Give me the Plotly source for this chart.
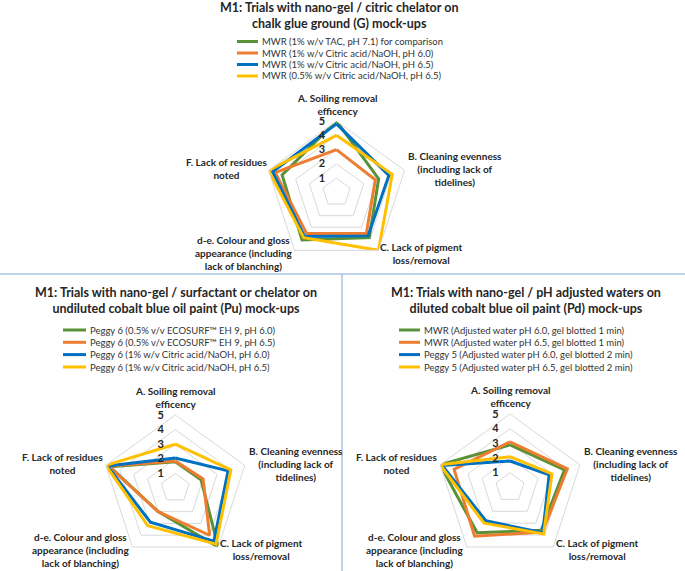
import plotly.graph_objects as go

W, H = 685, 571

categories = ["A", "B", "C", "D", "F"]
category_labels = [
    "A. Soiling removal<br>efficency",
    "B. Cleaning evenness<br>(including lack of<br>tidelines)",
    "C. Lack of pigment<br>loss/removal",
    "d-e. Colour and gloss<br>appearance (including<br>lack of blanching)",
    "F. Lack of residues<br>noted",
]
radial_ticks = [1, 2, 3, 4, 5]

colors = ["#5B9136", "#ED7D31", "#0070C0", "#FFC000"]

# Chart 1 (G mock-ups)
g_title = "M1: Trials with nano-gel / citric chelator on<br>chalk glue ground (G) mock-ups"
g_names = [
    "MWR (1% w/v TAC, pH 7.1) for comparison",
    "MWR (1% w/v Citric acid/NaOH, pH 6.0)",
    "MWR (1% w/v Citric acid/NaOH, pH 6.5)",
    "MWR (0.5% w/v Citric acid/NaOH, pH 6.5)",
]
g_green = [5.0, 3.1, 3.9, 4.1, 4.0]
g_orange = [3.0, 2.85, 3.55, 3.55, 4.5]
g_blue = [4.8, 3.85, 3.75, 3.8, 4.7]
g_yellow = [4.0, 4.1, 5.0, 3.9, 5.0]

# Chart 2 (Pu mock-ups)
pu_title = "M1: Trials with nano-gel / surfactant or chelator on<br>undiluted cobalt blue oil paint (Pu) mock-ups"
pu_names = [
    "Peggy 6 (0.5% v/v ECOSURF™ EH 9, pH 6.0)",
    "Peggy 6 (0.5% v/v ECOSURF™ EH 9, pH 6.5)",
    "Peggy 6 (1% w/v Citric acid/NaOH, pH 6.0)",
    "Peggy 6 (1% w/v Citric acid/NaOH, pH 6.5)",
]
pu_green = [1.8, 1.85, 5.0, 2.0, 4.7]
pu_orange = [1.85, 2.0, 4.0, 2.0, 4.8]
pu_blue = [2.05, 3.8, 4.5, 2.9, 4.9]
pu_yellow = [3.0, 4.0, 4.75, 3.2, 5.0]

# Chart 3 (Pd mock-ups)
pd_title = "M1: Trials with nano-gel / pH adjusted waters on<br>diluted cobalt blue oil paint (Pd) mock-ups"
pd_names = [
    "MWR (Adjusted water pH 6.0, gel blotted 1 min)",
    "MWR (Adjusted water pH 6.5, gel blotted 1 min)",
    "Peggy 5 (Adjusted water pH 6.0, gel blotted 2 min)",
    "Peggy 5 (Adjusted water pH 6.5, gel blotted 2 min)",
]
pd_green = [2.9, 3.9, 3.6, 3.8, 5.0]
pd_orange = [3.1, 4.1, 3.75, 4.1, 4.0]
pd_blue = [1.8, 2.8, 3.8, 2.8, 4.85]
pd_yellow = [2.1, 3.0, 3.9, 3.0, 5.0]

FONT = "Lato"

charts = [
    dict(key="polar", cx=336.5, cy=192.5, R=71.5, title=g_title, tx=339, ty=15,
         names=g_names, series=[g_green, g_orange, g_blue, g_yellow],
         lx0=237, lx1=258, ly=[41.5, 53, 64.5, 76]),
    dict(key="polar2", cx=175.3, cy=488, R=73, title=pu_title, tx=176, ty=300,
         names=pu_names, series=[pu_green, pu_orange, pu_blue, pu_yellow],
         lx0=63, lx1=86, ly=[330, 342.3, 354.6, 367]),
    dict(key="polar3", cx=510, cy=487.5, R=73.5, title=pd_title, tx=525.7, ty=300,
         names=pd_names, series=[pd_green, pd_orange, pd_blue, pd_yellow],
         lx0=399, lx1=420, ly=[330, 342.3, 354.6, 367]),
]

label_offsets = [(0, -89), (119, -23.5), (85.5, 61), (-93.5, 61), (-111, -24)]

fig = go.Figure()
annotations = []
shapes = []

def px(x):
    return x / W

def py(y):
    return 1 - y / H

for ch in charts:
    for name, vals, col in zip(ch["names"], ch["series"], colors):
        fig.add_trace(go.Scatterpolar(
            r=vals + [vals[0]], theta=categories + [categories[0]],
            mode="lines", name=name, subplot=ch["key"], showlegend=False,
            line=dict(color=col, width=3), hoverinfo="skip",
        ))
    cx, cy, R = ch["cx"], ch["cy"], ch["R"]
    fig.layout[ch["key"]] = dict(
        domain=dict(x=[px(cx - R), px(cx + R)], y=[py(cy + R), py(cy - R)]),
        gridshape="linear",
        bgcolor="white",
        radialaxis=dict(range=[0, 5], tickvals=radial_ticks, showline=False,
                        gridcolor="#d9d9d9", gridwidth=1, angle=90, tickangle=90,
                        side="counterclockwise", ticks="outside", ticklen=7,
                        tickcolor="rgba(0,0,0,0)",
                        tickfont=dict(family=FONT, size=11, color="#262626", weight="bold")),
        angularaxis=dict(direction="clockwise", rotation=90, showticklabels=False,
                         showgrid=False, showline=True, linecolor="#d9d9d9",
                         linewidth=1, ticks=""),
    )
    # title
    annotations.append(dict(text="<b>" + ch["title"] + "</b>", x=px(ch["tx"]), y=py(ch["ty"]),
                            xref="paper", yref="paper", showarrow=False,
                            xanchor="center", yanchor="middle", align="center",
                            font=dict(family=FONT, size=12.5, color="#262626")))
    # category labels
    scale = R / 72.0
    for lab, (dx, dy) in zip(category_labels, label_offsets):
        annotations.append(dict(text="<b>" + lab + "</b>", x=px(cx + dx * scale), y=py(cy + dy * scale),
                                xref="paper", yref="paper", showarrow=False,
                                xanchor="center", yanchor="middle", align="center",
                                font=dict(family=FONT, size=10, color="#262626")))
    # legend
    for name, col, yy in zip(ch["names"], colors, ch["ly"]):
        shapes.append(dict(type="line", xref="paper", yref="paper",
                           x0=px(ch["lx0"]), x1=px(ch["lx1"]), y0=py(yy), y1=py(yy),
                           line=dict(color=col, width=3)))
        annotations.append(dict(text=name, x=px(ch["lx1"] + 1.5), y=py(yy),
                                xref="paper", yref="paper", showarrow=False,
                                xanchor="left", yanchor="middle",
                                font=dict(family=FONT, size=9.5, color="#333333")))

# dividers
shapes.append(dict(type="line", xref="paper", yref="paper", x0=0, x1=1,
                   y0=py(274), y1=py(274), line=dict(color="#A9C4E4", width=1.5)))
shapes.append(dict(type="line", xref="paper", yref="paper", x0=px(342), x1=px(342),
                   y0=py(274), y1=0, line=dict(color="#A9C4E4", width=1.5)))

fig.update_layout(
    width=W, height=H,
    margin=dict(l=0, r=0, t=0, b=0),
    paper_bgcolor="white",
    plot_bgcolor="white",
    annotations=annotations,
    shapes=shapes,
    showlegend=False,
    font=dict(family=FONT),
)

fig.write_html("out.html", config={"displayModeBar": False},
               post_script="document.body.style.margin='0px';")
